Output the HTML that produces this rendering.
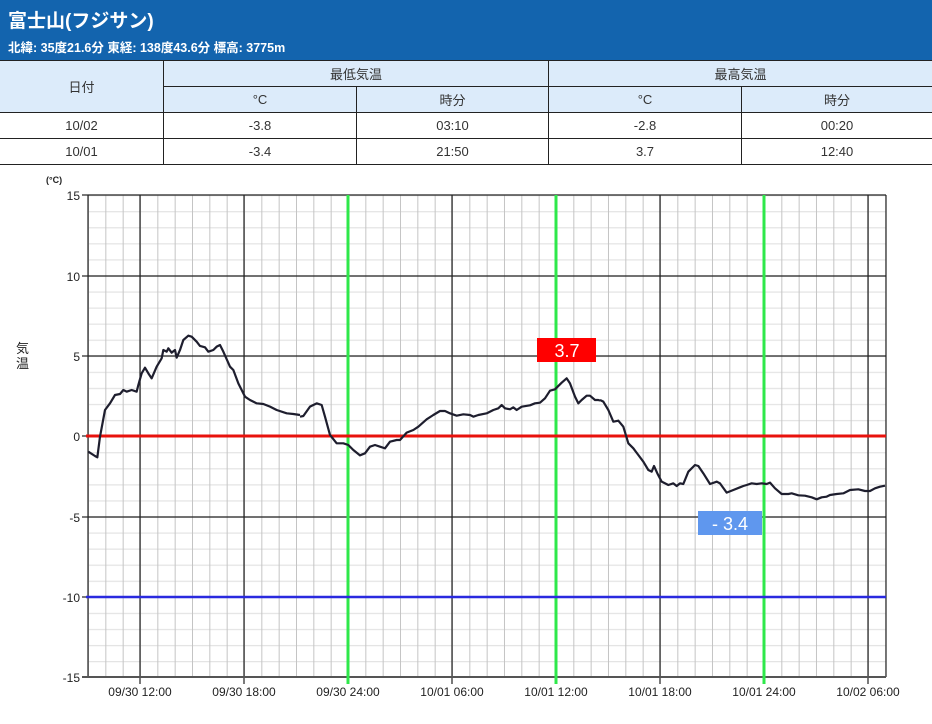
<!DOCTYPE html>
<html><head><meta charset="utf-8"><style>
body{margin:0;width:932px;height:724px;background:#fff;font-family:"Liberation Sans","Noto Sans CJK JP",sans-serif;overflow:hidden;position:relative}
.hd{position:absolute;left:0;top:0;width:932px;height:60px;background:#1364ae;color:#fff}
.t1{position:absolute;left:8px;top:6px;font-size:19px;font-weight:bold}
.t2{position:absolute;left:8px;top:37px;font-size:12.5px;font-weight:bold}
table{position:absolute;left:0;top:60px;width:932px;border-collapse:collapse;font-size:13px;color:#333}
td{text-align:center;border:1px solid #222;padding:0;height:25px}
tr.h td{background:#dcebfa}
td.d{border-left:1px dotted #222 !important}
svg{position:absolute;left:0;top:0}
</style></head><body>
<div class="hd"><div class="t1">富士山(フジサン)</div><div class="t2">北緯: 35度21.6分 東経: 138度43.6分 標高: 3775m</div></div>
<table>
<tr class="h"><td rowspan="2" style="width:163px;border-left:none">日付</td><td colspan="2">最低気温</td><td colspan="2" style="border-right:none">最高気温</td></tr>
<tr class="h"><td style="width:192px">°C</td><td class="d" style="width:191px">時分</td><td style="width:192px">°C</td><td class="d" style="border-right:none">時分</td></tr>
<tr><td style="border-left:none">10/02</td><td>-3.8</td><td class="d">03:10</td><td>-2.8</td><td class="d" style="border-right:none">00:20</td></tr>
<tr><td style="border-left:none">10/01</td><td>-3.4</td><td class="d">21:50</td><td>3.7</td><td class="d" style="border-right:none">12:40</td></tr>
</table>
<svg width="932" height="724" font-family="Liberation Sans, Noto Sans CJK JP, sans-serif">
<defs>
<pattern id="vx" patternUnits="userSpaceOnUse" x="88" y="0" width="17.333" height="10"><line x1="0.5" y1="0" x2="0.5" y2="10" stroke="#c4c4c4" stroke-width="1"/></pattern>
<pattern id="hy" patternUnits="userSpaceOnUse" x="0" y="195" width="10" height="16.07"><line x1="0" y1="0.5" x2="10" y2="0.5" stroke="#e4e4e4" stroke-width="1.5"/></pattern>
</defs>
<rect x="88" y="195" width="798" height="482" fill="url(#hy)"/>
<rect x="88" y="195" width="798" height="482" fill="url(#vx)"/>
<g stroke="#222" stroke-width="1.2">
<line x1="88" y1="195" x2="886" y2="195"/><line x1="88" y1="276" x2="886" y2="276"/><line x1="88" y1="356" x2="886" y2="356"/><line x1="88" y1="517" x2="886" y2="517"/>
<line x1="140" y1="195" x2="140" y2="684"/><line x1="244" y1="195" x2="244" y2="684"/><line x1="452" y1="195" x2="452" y2="684"/><line x1="660" y1="195" x2="660" y2="684"/><line x1="868" y1="195" x2="868" y2="684"/>
<line x1="88" y1="195" x2="88" y2="677"/><line x1="886" y1="195" x2="886" y2="677"/>
<line x1="82" y1="195" x2="88" y2="195"/><line x1="82" y1="276" x2="88" y2="276"/><line x1="82" y1="356" x2="88" y2="356"/><line x1="82" y1="436" x2="88" y2="436"/><line x1="82" y1="517" x2="88" y2="517"/><line x1="82" y1="597" x2="88" y2="597"/>
<line x1="82" y1="677" x2="886" y2="677" stroke="#555" stroke-width="2"/>
</g>
<g stroke="#2ee84a" stroke-width="3"><line x1="348" y1="195" x2="348" y2="684"/><line x1="556" y1="195" x2="556" y2="684"/><line x1="764" y1="195" x2="764" y2="684"/></g>
<line x1="86" y1="436" x2="886" y2="436" stroke="#e8120c" stroke-width="3"/>
<line x1="86" y1="597" x2="886" y2="597" stroke="#2a2adf" stroke-width="2.5"/>
<g fill="none" stroke="#1e1e2e" stroke-width="2.2" stroke-linejoin="round">
<polyline vector-effect="non-scaling-stroke" transform="translate(0,170) scale(0.33333)" points="265,845 285,858 292,862 300,800 315,720 330,700 345,675 360,672 370,660 380,665 395,660 410,665 415,645 425,610 435,593 445,610 455,625 470,590 485,565 490,540 500,545 505,535 515,548 525,540 530,563 540,540 550,510 565,497 575,500 590,515 600,528 615,532 625,545 640,540 650,530 660,525 670,545 690,590 700,600 715,640 735,680 750,690 770,700 790,702 810,710 830,720 860,730 880,732 900,735"/>
<polyline vector-effect="non-scaling-stroke" transform="translate(300,330) scale(0.33333)" points="0,260 10,258 30,230 50,220 65,225 75,260 90,315 110,340 130,340 145,345 160,360 180,376 195,370 210,350 225,345 240,350 255,355 270,335 290,330 300,330 320,308 340,300 355,290 380,268 400,255 420,243 435,243 450,250 470,257 490,253 510,255 520,260 535,255 560,250 580,240 595,235 605,225 615,235 630,238 640,232 650,240 665,230 690,226 705,220 720,218 735,205 750,182 765,178 785,158 800,145 810,160 825,200 835,220 845,210 860,197 870,197 885,210 895,210 900,212"/>
<polyline vector-effect="non-scaling-stroke" transform="translate(600,330) scale(0.33333)" points="0,210 10,215 25,240 40,275 55,272 70,290 85,340 100,355 115,375 130,395 145,420 155,425 162,408 172,430 185,455 205,465 220,460 230,468 240,460 250,462 265,425 285,405 295,408 310,430 330,462 350,455 360,460 380,488 400,480 420,472 430,468 440,465 455,460 470,462 485,460 500,462 510,458 525,475 545,492 565,492 575,490 595,496 615,497 635,502 650,508 665,502 680,500 690,495 710,492 730,490 750,480 775,478 795,483 810,483 825,475 840,470 855,467"/>
</g>
<rect x="537" y="338" width="59" height="24" fill="#f00"/>
<text x="567" y="357" fill="#fff" font-size="18" text-anchor="middle">3.7</text>
<rect x="698" y="511" width="64" height="24" fill="#5f97ee"/>
<text x="730" y="530" fill="#fff" font-size="18" text-anchor="middle">- 3.4</text>
<g font-size="12" fill="#222" text-anchor="end">
<text x="80" y="200">15</text><text x="80" y="281">10</text><text x="80" y="361">5</text><text x="80" y="441">0</text><text x="80" y="522">-5</text><text x="80" y="602">-10</text><text x="80" y="682">-15</text>
</g>
<text x="46" y="183" font-size="9" font-weight="bold" fill="#222">(°C)</text>
<text font-size="13" fill="#222"><tspan x="16" y="353">気</tspan><tspan x="16" y="368">温</tspan></text>
<g font-size="12" fill="#222" text-anchor="middle">
<text x="140" y="696">09/30 12:00</text><text x="244" y="696">09/30 18:00</text><text x="348" y="696">09/30 24:00</text><text x="452" y="696">10/01 06:00</text><text x="556" y="696">10/01 12:00</text><text x="660" y="696">10/01 18:00</text><text x="764" y="696">10/01 24:00</text><text x="868" y="696">10/02 06:00</text>
</g>
</svg>
</body></html>
